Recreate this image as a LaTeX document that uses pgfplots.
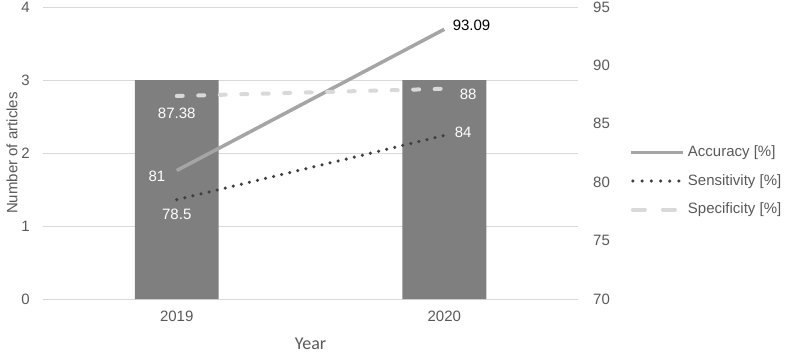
\documentclass[border=0pt]{standalone}
\usepackage{pgfplots}
\pgfplotsset{compat=1.18}
\usepackage{fontspec}
\setmainfont{Liberation Sans}
\newfontfamily\calib{Carlito}
\definecolor{bargray}{HTML}{7F7F7F}
\definecolor{accgray}{HTML}{A5A5A5}
\definecolor{sensgray}{HTML}{404040}
\definecolor{specgray}{HTML}{D9D9D9}
\definecolor{gridgray}{HTML}{D9D9D9}
\definecolor{txtgray}{HTML}{595959}
\begin{document}
\begin{tikzpicture}[font=\fontsize{15bp}{18bp}\selectfont]
\path[use as bounding box] (-43bp,-55bp) rectangle (745bp,299bp);
\pgfplotsset{
  every axis/.append style={
    scale only axis, width=535bp, height=292bp,
    at={(0,0)}, anchor=south west,
    xmin=-0.5, xmax=1.5,
    axis line style={draw=none},
    major tick length=0pt,
    /pgf/number format/assume math mode=true,
    tick label style={text=txtgray, inner sep=0pt},
  }
}
\begin{axis}[
  ymin=0, ymax=4, ytick={0,1,2,3,4},
  ymajorgrids, grid style={color=gridgray, line width=1bp},
  xtick={0,1}, xticklabels={2019,2020},
  ybar, bar width=0.314,
  yticklabel style={anchor=east, xshift=-13bp},
  xticklabel style={anchor=north, yshift=-12bp},
  ylabel={Number of articles},
  ylabel style={at={(axis description cs:-0.058,0.5)}, anchor=center, rotate=0, text=txtgray},
  xlabel={\calib\fontsize{18bp}{20bp}\selectfont Year},
  xlabel style={at={(axis description cs:0.5,-0.153)}, anchor=center, text=txtgray},
]
\addplot[fill=bargray, draw=none] coordinates {(0,3) (1,3)};
\end{axis}
\begin{axis}[
  ymin=70, ymax=95, ytick={70,75,80,85,90,95},
  axis y line*=right, hide x axis,
  yticklabel style={anchor=west, xshift=15bp},
  legend style={at={(axis description cs:1.0897,0.404)}, anchor=west, draw=none, fill=none,
    font=\fontsize{15bp}{18bp}\selectfont, text=txtgray,
    nodes={inner sep=0pt, text height=11bp, text depth=3bp},
    row sep=14.5bp, column sep=3bp},
  legend cell align=left,
]
\addplot[color=accgray, line width=3.5bp,
  legend image code/.code={\draw[accgray, line width=3.5bp] (0bp,0bp) -- (52bp,0bp);}]
  coordinates {(0,81) (1,93.09)};
\addlegendentry{Accuracy [\%]}
\addplot[color=sensgray, line width=3.5bp, line cap=round, dash pattern=on 0bp off 8.3bp,
  legend image code/.code={\draw[sensgray, line width=3.5bp, line cap=round, dash pattern=on 0bp off 9.2bp] (2bp,0bp) -- (49bp,0bp);}]
  coordinates {(0,78.5) (1,84)};
\addlegendentry{Sensitivity [\%]}
\addplot[color=specgray, line width=4bp, line cap=round, dash pattern=on 6bp off 15.5bp,
  legend image code/.code={\draw[specgray, line width=4bp, line cap=round, dash pattern=on 12bp off 18bp] (2bp,0bp) -- (46bp,0bp);\path (52bp,0bp);}]
  coordinates {(0,87.38) (1,88)};
\addlegendentry{Specificity [\%]}
\node[text=white, anchor=center, yshift=-17bp] at (axis cs:0,87.38) {87.38};
\node[text=white, anchor=east, xshift=-8bp, yshift=-5.5bp] at (axis cs:0,81) {81};
\node[text=white, anchor=center, yshift=-15bp] at (axis cs:0,78.5) {78.5};
\node[text=black, anchor=west, xshift=5bp, yshift=4bp] at (axis cs:1,93.09) {93.09};
\node[text=white, anchor=west, xshift=12bp, yshift=-6bp] at (axis cs:1,88) {88};
\node[text=white, anchor=west, xshift=7bp, yshift=3.5bp] at (axis cs:1,84) {84};
\end{axis}
\end{tikzpicture}
\end{document}
